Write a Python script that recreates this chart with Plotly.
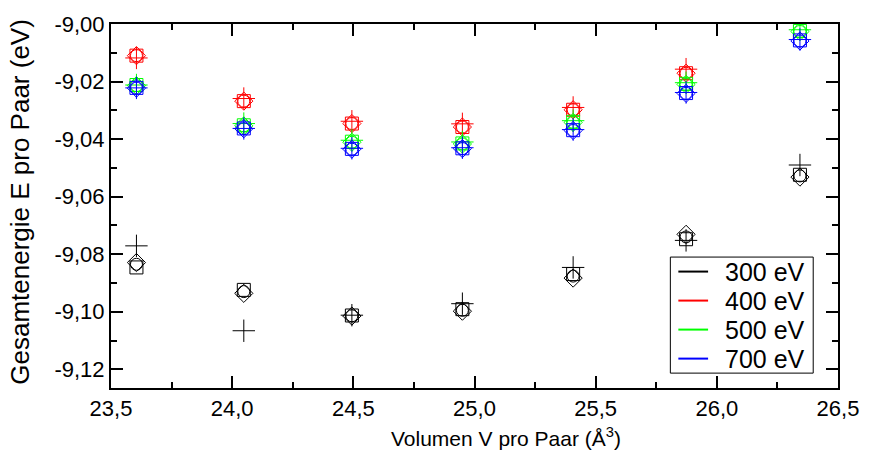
import plotly.graph_objects as go

# Volume per pair (Å^3)
volume = [23.605, 24.048, 24.494, 24.950, 25.407, 25.873, 26.343]

# Total energy per pair (eV) for each cutoff energy and marker set
e300_plus = [-9.0771, -9.1066, -9.1012, -9.0972, -9.0846, -9.0752, -9.0490]
e300_square = [-9.0846, -9.0924, -9.1013, -9.0991, -9.0869, -9.0748, -9.0524]
e300_circle = [-9.0835, -9.0930, -9.1014, -9.0995, -9.0876, -9.0740, -9.0528]
e300_diamond = [-9.0829, -9.0936, -9.1015, -9.0998, -9.0883, -9.0731, -9.0532]

e400_plus = [-9.0118, -9.0259, -9.0338, -9.0347, -9.0290, -9.0157, None]
e400_square = [-9.0110, -9.0268, -9.0346, -9.0358, -9.0298, -9.0171, None]
e400_circle = [-9.0110, -9.0268, -9.0346, -9.0358, -9.0298, -9.0171, None]
e400_diamond = [-9.0110, -9.0268, -9.0346, -9.0358, -9.0298, -9.0171, None]

e500_plus = [-9.0212, -9.0346, -9.0404, -9.0410, -9.0336, -9.0204, -9.0020]
e500_square = [-9.0212, -9.0352, -9.0409, -9.0415, -9.0340, -9.0208, -9.0024]
e500_circle = [-9.0214, -9.0354, -9.0411, -9.0417, -9.0342, -9.0210, -9.0026]
e500_diamond = [-9.0214, -9.0354, -9.0411, -9.0417, -9.0342, -9.0210, -9.0026]

e700_plus = [-9.0222, -9.0363, -9.0432, -9.0430, -9.0367, -9.0238, -9.0054]
e700_square = [-9.0222, -9.0363, -9.0434, -9.0432, -9.0369, -9.0240, -9.0057]
e700_circle = [-9.0223, -9.0364, -9.0435, -9.0433, -9.0370, -9.0241, -9.0059]
e700_diamond = [-9.0223, -9.0364, -9.0435, -9.0433, -9.0370, -9.0241, -9.0059]

series_names = ["300 eV", "400 eV", "500 eV", "700 eV"]
series_colors = ["#000000", "#ff0000", "#00ff00", "#0000ff"]
series_data = [
    [e300_plus, e300_square, e300_circle, e300_diamond],
    [e400_plus, e400_square, e400_circle, e400_diamond],
    [e500_plus, e500_square, e500_circle, e500_diamond],
    [e700_plus, e700_square, e700_circle, e700_diamond],
]

y_tickvals = [-9.12, -9.10, -9.08, -9.06, -9.04, -9.02, -9.00]
y_ticktext = ["-9,12", "-9,10", "-9,08", "-9,06", "-9,04", "-9,02", "-9,00"]
x_tickvals = [23.5, 24.0, 24.5, 25.0, 25.5, 26.0, 26.5]
x_ticktext = ["23,5", "24,0", "24,5", "25,0", "25,5", "26,0", "26,5"]

FONT = "Liberation Sans, Arial, sans-serif"

symbols = ["cross-thin-open", "square-open", "circle-open", "diamond-open"]
sizes = [16, 13, 12, 14]

fig = go.Figure()
for name, color, sets in zip(series_names, series_colors, series_data):
    for sym, size, vals in zip(symbols, sizes, sets):
        fig.add_trace(go.Scatter(
            x=volume, y=vals, mode="markers", name=name, showlegend=False,
            marker=dict(symbol=sym, size=size, color=color,
                        line=dict(color=color, width=1)),
        ))

axis_common = dict(
    showline=True, linecolor="black", linewidth=2, mirror="allticks",
    ticks="inside", ticklen=12, tickwidth=1.5, tickcolor="black",
    showgrid=False, zeroline=False,
    tickfont=dict(family=FONT, size=22, color="black"),
)

fig.update_xaxes(
    range=[23.5, 26.5], tickmode="array", tickvals=x_tickvals, ticktext=x_ticktext,
    minor=dict(ticks="inside", ticklen=6, tickwidth=1.5, tickcolor="black",
               tickmode="linear", tick0=23.5, dtick=0.25, showgrid=False),
    **axis_common,
)
fig.update_yaxes(
    range=[-9.1265, -9.0], tickmode="array", tickvals=y_tickvals, ticktext=y_ticktext,
    minor=dict(ticks="inside", ticklen=6, tickwidth=1.5, tickcolor="black",
               tickmode="linear", tick0=-9.0, dtick=0.01, showgrid=False),
    **axis_common,
)

# Axis titles
annotations = [
    dict(text="Volumen V pro Paar (Å<sup>3</sup>)", xref="paper", yref="paper",
         x=0.544, y=-0.093, xanchor="center", yanchor="top", showarrow=False,
         font=dict(family=FONT, size=21, color="black")),
    dict(text="Gesamtenergie E pro Paar (eV)", xref="paper", yref="paper",
         x=-0.125, y=0.512, xanchor="center", yanchor="middle", textangle=-90,
         showarrow=False, font=dict(family=FONT, size=26, color="black")),
]

# Legend box with line samples, placed inside the lower right of the plot
shapes = []
box_x0, box_x1, box_y0, box_y1 = 0.7694, 0.9659, 0.0409, 0.3597
shapes.append(dict(type="rect", xref="paper", yref="paper",
                   x0=box_x0, x1=box_x1, y0=box_y0, y1=box_y1,
                   line=dict(color="black", width=1), fillcolor="white", layer="above"))
row_step = (box_y1 - box_y0) / len(series_names)
for i, (name, color) in enumerate(zip(series_names, series_colors)):
    yr = box_y1 - (i + 0.5) * row_step
    shapes.append(dict(type="line", xref="paper", yref="paper",
                       x0=0.7804, x1=0.8213, y0=yr, y1=yr,
                       line=dict(color=color, width=2), layer="above"))
    annotations.append(dict(text=name, xref="paper", yref="paper",
                            x=0.8418, y=yr, xanchor="left", yanchor="middle",
                            showarrow=False,
                            font=dict(family=FONT, size=25, color="black")))

fig.update_layout(
    width=871, height=462,
    margin=dict(l=111, r=27, t=21, b=74),
    plot_bgcolor="white", paper_bgcolor="white",
    showlegend=False,
    shapes=shapes, annotations=annotations,
)

fig.write_html("out.html")
